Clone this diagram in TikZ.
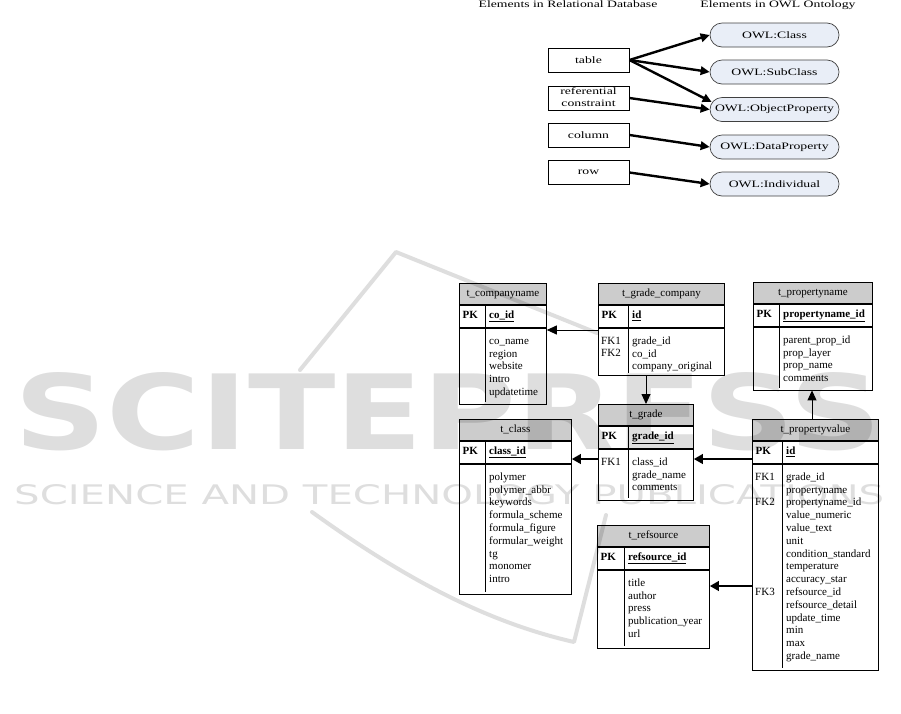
\documentclass[tikz,border=0pt]{standalone}
\usepackage{fontspec}
\setmainfont{Liberation Serif}
\newfontfamily\wmfont{DejaVu Sans}
\usetikzlibrary{arrows.meta,calc}
\definecolor{owlfill}{RGB}{233,238,247}
\definecolor{hdrgray}{RGB}{204,204,204}
\newcommand\topfont{\fontsize{9.8}{11.5}\selectfont}
\newcommand\tabfont{\fontsize{11}{12.8}\selectfont}
\newcommand\wt[1]{\scalebox{1.4}[1]{#1}}
% #1 name #2 L #3 R #4 T #5 B #6 divider x #7 title #8 key #9 attributes
\newcommand\ertab[9]{%
  \node[tabhdr, minimum width={#3pt-#2pt}] (#1-h) at (#2,#4) {#7};
  \node[tabrow, minimum width={#3pt-#2pt}, minimum height=22pt] (#1-k) at (#1-h.south west) {};
  \node[tabrow, minimum width={#3pt-#2pt}, minimum height={#5pt-#4pt-43pt}] (#1-b) at (#1-k.south west) {};
  \draw[tabline] (#6,#4+21) -- (#6,#5);
  \node[tabtxt] (#1-pk) at (#2+3.5,#4+35.3) {\textbf{PK}};
  \node[tabtxt] (#1-key) at (#6+4,#4+35.3) {\textbf{\underline{#8}}};
  \node[attr] (#1-at) at (#6+4,#4+52.04) {\strut #9};
}
\begin{document}
\begin{tikzpicture}[x=1pt,y=-1pt,
  rbox/.style={draw=black, line width=0.9pt, minimum width=81pt, minimum height=24pt, inner sep=0pt, font=\topfont},
  owl/.style={draw=black!75, line width=0.7pt, fill=owlfill, rounded corners=12pt, minimum width=129pt, minimum height=24pt, inner sep=0pt, font=\topfont},
  map/.style={line width=2.4pt, -{Triangle[length=9pt,width=8.5pt]}},
  tabline/.style={draw=black, line width=0.8pt},
  tabhdr/.style={tabline, fill=hdrgray, anchor=north west, inner sep=0pt, minimum height=21pt, font=\tabfont, text height=7.5pt, text depth=2.5pt},
  tabrow/.style={tabline, fill=white, anchor=north west, inner sep=0pt},
  tabtxt/.style={anchor=base west, inner sep=0pt, font=\tabfont},
  attr/.style={anchor=north west, inner sep=0pt, align=left, font=\tabfont},
  fkthin/.style={line width=0.9pt, -{Triangle[length=10pt,width=9pt]}},
  fkthick/.style={line width=2.2pt, -{Triangle[length=9pt,width=9.5pt]}},
  wm/.style={anchor=north west, inner sep=0pt}
]
\useasboundingbox (0,0) rectangle (901,713);

% ---------- top mapping ----------
\node[anchor=base, inner sep=0pt, font=\topfont] (t1) at (568,7.5) {\wt{Elements in Relational Database}};
\node[anchor=base, inner sep=0pt, font=\topfont] (t2) at (778,7.5) {\wt{Elements in OWL Ontology}};

\node[rbox] (tb) at (588.5,60) {\wt{table}};
\node[rbox] (rc) at (588.5,98) {\wt{\begin{tabular}{@{}c@{}}referential\\constraint\end{tabular}}};
\node[rbox] (col) at (588.5,135) {\wt{column}};
\node[rbox] (rw) at (588.5,172.5) {\wt{row}};

\node[owl] (cls) at (774.5,35) {\wt{OWL:Class}};
\node[owl] (sub) at (774.5,72) {\wt{OWL:SubClass}};
\node[owl] (obj) at (774.5,109.5) {\wt{OWL:ObjectProperty}};
\node[owl] (dp) at (774.5,147) {\wt{OWL:DataProperty}};
\node[owl] (ind) at (774.5,184) {\wt{OWL:Individual}};

\draw[map] (tb.east) -- (cls.west);
\draw[map] (tb.east) -- (sub.west);
\draw[map] (tb.east) -- ($(obj.west)+(2,-7.5)$);
\draw[map] (rc.east) -- (obj.west);
\draw[map] (col.east) -- (dp.west);
\draw[map] (rw.east) -- (ind.west);

% ---------- tables ----------
\ertab{cn}{459}{546}{283}{402}{485}{t\_companyname}{co\_id}{co\_name\\region\\website\\intro\\updatetime}
\ertab{gc}{598}{724}{283}{373}{628}{t\_grade\_company}{id}{grade\_id\\co\_id\\company\_original}
\node[tabtxt] (gc-f1) at (601,344) {FK1};
\node[tabtxt] (gc-f2) at (601,356.8) {FK2};

\ertab{pn}{753}{872}{282}{388}{779}{t\_propertyname}{propertyname\_id}{parent\_prop\_id\\prop\_layer\\prop\_name\\comments}

\ertab{gr}{598}{693}{404}{498}{628}{t\_grade}{grade\_id}{class\_id\\grade\_name\\comments}
\node[tabtxt] (gr-f1) at (601,465) {FK1};

\ertab{cl}{459}{571}{419}{592}{485}{t\_class}{class\_id}{polymer\\polymer\_abbr\\keywords\\formula\_scheme\\formula\_figure\\formular\_weight\\tg\\monomer\\intro}

\ertab{rs}{597}{709}{525}{646}{624}{t\_refsource}{refsource\_id}{title\\author\\press\\publication\_year\\url}

\ertab{pv}{752}{878}{419}{668}{782}{t\_propertyvalue}{id}{grade\_id\\propertyname\\propertyname\_id\\value\_numeric\\value\_text\\unit\\condition\_standard\\temperature\\accuracy\_star\\refsource\_id\\refsource\_detail\\update\_time\\min\\max\\grade\_name}
\node[tabtxt] (pv-f1) at (755,480) {FK1};
\node[tabtxt] (pv-f2) at (755,505.6) {FK2};
\node[tabtxt] (pv-f3) at (755,595.2) {FK3};

% ---------- relations ----------
\draw[fkthin] (gc-b.west |- 0,330) -- (cn-b.east |- 0,330);
\draw[fkthin] (gc-b.south -| 646,0) -- (gr-h.north -| 646,0);
\draw[fkthick] (gr-b.west |- 0,459) -- (cl-k.east |- 0,459);
\draw[fkthick] (pv-k.west |- 0,459) -- (gr-b.east |- 0,459);
\draw[fkthin] (pv-h.north -| 812,0) -- (pn-b.south -| 812,0);
\draw[fkthick] (pv-b.west |- 0,586) -- (rs-b.east |- 0,586);

% ---------- watermark ----------
\begin{scope}[opacity=0.13]
  \node[wm] (wm1) at (14,372) {\resizebox{867pt}{77pt}{\wmfont\bfseries SCITEPRESS}};
  \node[wm] (wm2) at (14,484) {\resizebox{870pt}{20pt}{\wmfont SCIENCE AND TECHNOLOGY PUBLICATIONS}};
  \draw[line width=4pt, line cap=round, line join=round] (300,370) -- (396,252) -- (597,333);
  \draw[line width=4pt, line cap=round, line join=round] (312,512) .. controls (420,590) and (500,625) .. (574,642) -- (606,515);
\end{scope}
\end{tikzpicture}
\end{document}
